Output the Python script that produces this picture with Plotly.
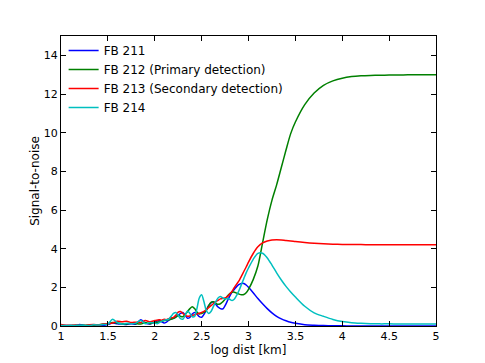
import plotly.graph_objects as go

x_vals = [1.00,1.05,1.10,1.15,1.20,1.25,1.30,1.35,1.40,1.45,1.50,1.55,1.60,1.65,1.70,1.75,1.80,1.85,1.90,1.95,
          2.000,2.025,2.050,2.075,2.100,2.125,2.150,2.175,2.200,2.225,2.250,2.275,2.300,2.325,2.350,2.375,2.400,2.425,2.450,2.475,
          2.500,2.525,2.550,2.575,2.600,2.625,2.650,2.675,2.700,2.725,2.750,2.775,2.800,2.825,2.850,2.875,2.900,2.925,2.950,2.975,
          3.00,3.05,3.10,3.15,3.20,3.25,3.30,3.35,3.40,3.45,3.50,
          3.6,3.7,3.8,3.9,4.0,4.1,4.2,4.3,4.4,4.5,4.6,4.7,4.8,4.9,5.0]

fb211 = [0.05,0.02,0.03,0.02,0.08,0.02,0.03,0.05,0.04,0.03,0.08,0.15,0.12,0.10,0.08,0.12,0.10,0.32,0.15,0.10,
         0.20,0.25,0.30,0.22,0.15,0.20,0.30,0.38,0.40,0.48,0.55,0.65,0.70,0.55,0.40,0.45,0.62,0.70,0.62,0.48,
         0.45,0.60,0.82,1.05,1.20,1.25,1.12,0.98,0.90,0.88,1.05,1.30,1.55,1.75,1.90,2.05,2.15,2.20,2.20,2.12,
         2.00,1.72,1.42,1.15,0.90,0.68,0.50,0.37,0.27,0.19,0.14,
         0.07,0.04,0.02,0.01,0.01,0.00,0.00,0.00,0.00,0.00,0.00,0.00,0.00,0.00,0.00]

fb212 = [0.02,0.01,0.03,0.02,0.03,0.04,0.05,0.04,0.07,0.10,0.12,0.18,0.15,0.12,0.10,0.15,0.12,0.10,0.18,0.12,
         0.20,0.18,0.22,0.25,0.28,0.30,0.32,0.35,0.40,0.45,0.55,0.50,0.48,0.60,0.75,0.90,1.00,0.90,0.72,0.62,
         0.65,0.70,0.80,1.05,1.22,1.25,1.18,1.12,1.15,1.25,1.38,1.55,1.68,1.74,1.75,1.70,1.65,1.62,1.63,1.72,
         1.90,2.40,3.10,4.30,5.50,6.50,7.30,8.20,9.10,9.95,10.55,
         11.45,12.05,12.45,12.68,12.82,12.90,12.94,12.96,12.97,12.98,12.98,12.99,12.99,13.00,13.00]

fb213 = [0.08,0.04,0.02,0.05,0.03,0.02,0.06,0.08,0.05,0.10,0.12,0.15,0.25,0.22,0.25,0.18,0.20,0.18,0.28,0.22,
         0.28,0.30,0.32,0.30,0.35,0.33,0.38,0.42,0.45,0.55,0.72,0.75,0.65,0.55,0.50,0.52,0.55,0.58,0.62,0.66,
         0.70,0.76,0.85,0.95,1.05,1.15,1.25,1.33,1.40,1.43,1.45,1.52,1.65,1.80,2.00,2.18,2.35,2.58,2.82,3.05,
         3.30,3.75,4.10,4.30,4.40,4.45,4.46,4.45,4.42,4.40,4.37,
         4.32,4.28,4.25,4.23,4.22,4.21,4.21,4.20,4.20,4.20,4.20,4.20,4.20,4.20,4.20]

fb214 = [0.03,0.02,0.02,0.03,0.04,0.03,0.02,0.06,0.05,0.08,0.10,0.35,0.18,0.10,0.14,0.12,0.15,0.28,0.12,0.18,
         0.15,0.12,0.18,0.25,0.30,0.32,0.36,0.50,0.65,0.70,0.55,0.38,0.35,0.55,0.78,0.65,0.48,0.50,0.90,1.45,
         1.62,1.25,0.80,0.65,0.75,1.00,1.25,1.45,1.52,1.45,1.40,1.42,1.38,1.32,1.40,1.60,1.85,2.15,2.45,2.75,
         3.00,3.45,3.76,3.76,3.52,3.15,2.75,2.38,2.05,1.76,1.50,
         1.02,0.68,0.50,0.34,0.23,0.17,0.14,0.12,0.11,0.11,0.10,0.10,0.10,0.10,0.10]

series = [("FB 211", fb211, "#0000ff"),
          ("FB 212 (Primary detection)", fb212, "#008000"),
          ("FB 213 (Secondary detection)", fb213, "#ff0000"),
          ("FB 214", fb214, "#00bfbf")]

x_ticks = [1, 1.5, 2, 2.5, 3, 3.5, 4, 4.5, 5]
x_ticktext = ["1", "1.5", "2", "2.5", "3", "3.5", "4", "4.5", "5"]
y_ticks = [0, 2, 4, 6, 8, 10, 12, 14]

fig = go.Figure()
for name, ys, col in series:
    fig.add_trace(go.Scatter(x=x_vals, y=ys, mode="lines", name=name,
                             line=dict(color=col, width=1.5, shape="spline", smoothing=0.8)))

axis_common = dict(showline=True, linecolor="black", linewidth=1, mirror="allticks",
                   ticks="inside", ticklen=5, tickcolor="black", showgrid=False, zeroline=False,
                   automargin=False,
                   tickfont=dict(family="DejaVu Sans", size=11, color="black"))

fig.update_layout(
    width=477, height=355,
    margin=dict(l=53, r=49, t=28, b=37),
    paper_bgcolor="white", plot_bgcolor="white",
    font=dict(family="DejaVu Sans", size=12, color="black"),
    xaxis=dict(range=[1, 5], tickvals=x_ticks, ticktext=x_ticktext,
               title=dict(text="log dist [km]", font=dict(size=12), standoff=2), **axis_common),
    yaxis=dict(range=[0, 15], tickvals=y_ticks,
               title=dict(text="Signal-to-noise", font=dict(size=12), standoff=1), **axis_common),
    legend=dict(x=0.007, y=1.0, xanchor="left", yanchor="top", bgcolor="rgba(0,0,0,0)",
                borderwidth=0, font=dict(size=12), tracegroupgap=0),
    showlegend=True,
)

fig.write_html("out.html")
